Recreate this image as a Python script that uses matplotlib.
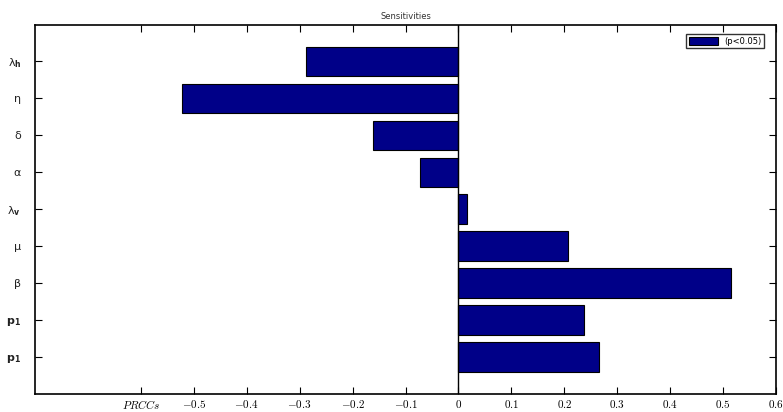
import matplotlib
matplotlib.use("Agg")
import matplotlib.pyplot as plt

# Parameter labels (bottom to top) and their PRCC values
params = [r'$\mathbf{p}_\mathbf{1}$', r'$\mathbf{p}_\mathbf{1}$', 'β', 'μ',
          r'$\mathrm{λ}_\mathbf{v}$', 'α', 'δ', 'η',
          r'$\mathrm{λ}_\mathbf{h}$']
prcc = [0.265, 0.238, 0.515, 0.207, 0.016, -0.073, -0.162, -0.523, -0.288]

xticks = [-0.6, -0.5, -0.4, -0.3, -0.2, -0.1, 0, 0.1, 0.2, 0.3, 0.4, 0.5, 0.6]
xticklabels = ['$PRCCs$', '$-0.5$', '$-0.4$', '$-0.3$', '$-0.2$', '$-0.1$', '$0$',
               '$0.1$', '$0.2$', '$0.3$', '$0.4$', '$0.5$', '$0.6$']

fig = plt.figure(figsize=(7.83, 4.12), dpi=100)
ax = fig.add_axes([35/783, 1 - 394/412, 741/783, 369.5/412])

ypos = list(range(1, len(params) + 1))
ax.barh(ypos, prcc, height=0.8, color='#000088', edgecolor='black',
        linewidth=0.8, label='(p<0.05)')
ax.axvline(0, color='black', linewidth=1)

ax.set_xlim(-0.8, 0.6)
ax.set_ylim(0, 10)

ax.set_xticks(xticks)
ax.set_xticklabels(xticklabels, fontsize=8)
for t in ax.get_xticklabels():
    t.set_math_fontfamily('cm')

ax.set_yticks(ypos)
ax.set_yticklabels(params, fontsize=8, color='#222222')
for t in ax.get_yticklabels():
    t.set_math_fontfamily('dejavusans')

ax.tick_params(direction='in', length=5, width=0.8, top=True, right=True)
ax.tick_params(axis='y', pad=10)
ax.tick_params(axis='x', pad=3)
for s in ax.spines.values():
    s.set_linewidth(1.2)

ax.set_title('Sensitivities', fontsize=6, color='#333333', pad=4)

ax.legend(loc='upper right', fontsize=6, frameon=True, fancybox=False,
          edgecolor='black', handlelength=3.5, handleheight=1.0,
          borderpad=0.3, bbox_to_anchor=(0.99, 0.985))

fig.savefig('out.png', dpi=100)
